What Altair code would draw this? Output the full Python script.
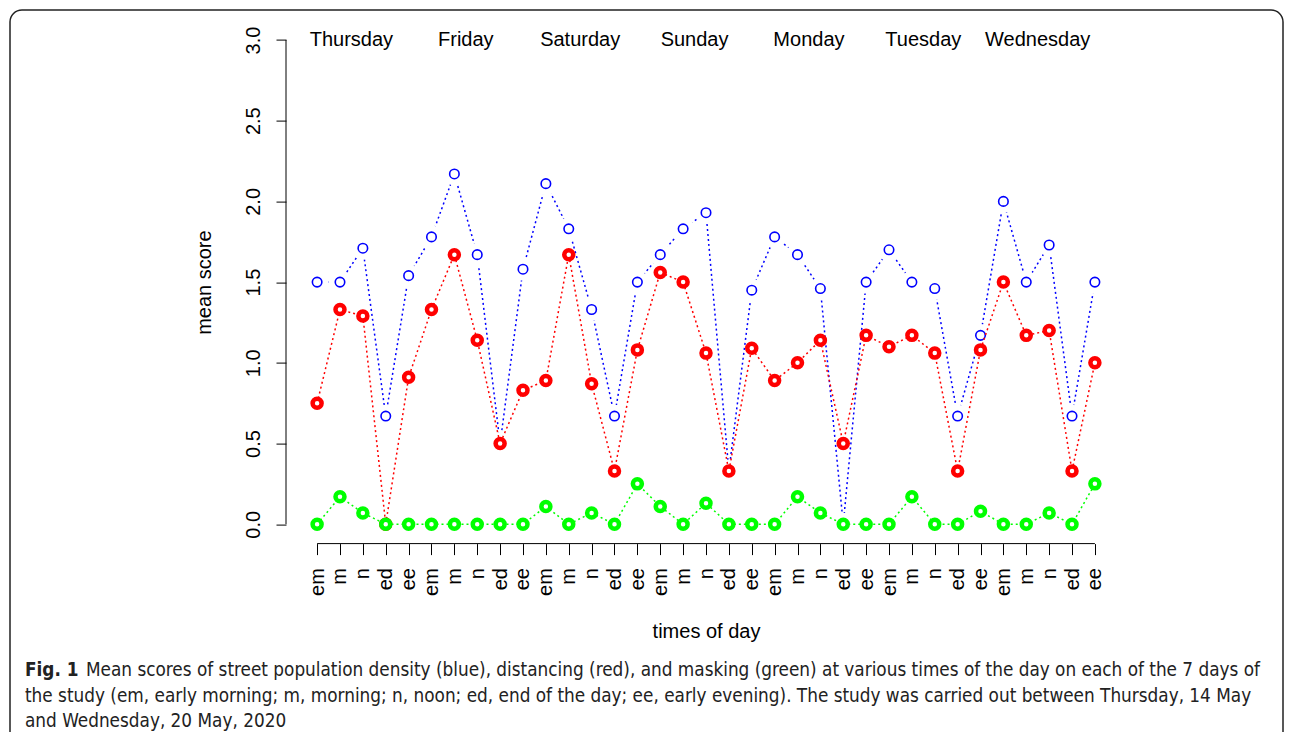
import json
import altair as alt
import pandas as pd

# ---- data ----
times = ["em", "m", "n", "ed", "ee"]
days = ["Thursday", "Friday", "Saturday", "Sunday", "Monday", "Tuesday", "Wednesday"]

density = [1.50, 1.50, 1.71, 0.67, 1.54,
           1.78, 2.17, 1.67, 0.50, 1.58,
           2.11, 1.83, 1.33, 0.67, 1.50,
           1.67, 1.83, 1.93, 0.33, 1.45,
           1.78, 1.67, 1.46, 0.00, 1.50,
           1.70, 1.50, 1.46, 0.67, 1.17,
           2.00, 1.50, 1.73, 0.67, 1.50]
distancing = [0.75, 1.33, 1.29, 0.00, 0.91,
              1.33, 1.67, 1.14, 0.50, 0.83,
              0.89, 1.67, 0.87, 0.33, 1.08,
              1.56, 1.50, 1.06, 0.33, 1.09,
              0.89, 1.00, 1.14, 0.50, 1.17,
              1.10, 1.17, 1.06, 0.33, 1.08,
              1.50, 1.17, 1.20, 0.33, 1.00]
masking = [0.00, 0.17, 0.07, 0.00, 0.00,
           0.00, 0.00, 0.00, 0.00, 0.00,
           0.11, 0.00, 0.07, 0.00, 0.25,
           0.11, 0.00, 0.13, 0.00, 0.00,
           0.00, 0.17, 0.07, 0.00, 0.00,
           0.00, 0.17, 0.00, 0.00, 0.08,
           0.00, 0.00, 0.07, 0.00, 0.25]

day_label_pos = [1.5, 6.5, 11.5, 16.5, 21.5, 26.5, 31.5]

caption_bold = "Fig. 1"
caption_lines = [
    "Mean scores of street population density (blue), distancing (red), and masking (green) at various times of the day on each of the 7 days of",
    "the study (em, early morning; m, morning; n, noon; ed, end of the day; ee, early evening). The study was carried out between Thursday, 14 May",
    "and Wednesday, 20 May, 2020",
]

# ---- tables ----
n = len(density)
idx = list(range(n))
df_blue = pd.DataFrame({"idx": idx, "value": density})
df_red = pd.DataFrame({"idx": idx, "value": distancing})
df_green = pd.DataFrame({"idx": idx, "value": masking})
df_days = pd.DataFrame({"idx": day_label_pos, "day": days, "value": [3.0] * len(days)})

W, H = 840, 523
FONT = "Liberation Sans"
CAP_FONT = "Liberation Sans Narrow, DejaVu Sans Condensed, Open Sans"
CAP_SIZE = 18.8

xscale = alt.Scale(domain=[-1.36, 35.36], nice=False, zero=False)
yscale = alt.Scale(domain=[-0.12, 3.12], nice=False, zero=False)

label_expr = json.dumps(times) + "[datum.value % 5]"

x_axis = alt.Axis(values=idx, labelExpr=label_expr, labelAngle=270, labelAlign="right",
                  labelBaseline="middle", labelPadding=13, tickSize=11, labelOverlap=False,
                  labelFlush=False, labelSeparation=0, domain=False, grid=False,
                  titleX=W / 2, titleY=94, titleBaseline="alphabetic", titleAlign="center",
                  titleFontWeight="normal", titleFontSize=20, labelFontSize=20,
                  labelFont=FONT, titleFont=FONT, labelColor="black", titleColor="black",
                  tickColor="black")
y_axis = alt.Axis(values=[0, 0.5, 1.0, 1.5, 2.0, 2.5, 3.0], format=".1f", labelAngle=270,
                  labelAlign="center", labelBaseline="alphabetic", labelPadding=17,
                  tickSize=10, domain=False, grid=False,
                  titleX=-82, titleY=H / 2, titleAngle=270, titleAlign="center",
                  titleBaseline="middle", titleFontWeight="normal", titleFontSize=20,
                  labelFontSize=20, labelFont=FONT, titleFont=FONT, labelColor="black",
                  titleColor="black", tickColor="black", labelOverlap=False)

XT, YT = "times of day", "mean score"


def xenc():
    return alt.X("idx:Q", scale=xscale, axis=x_axis, title=XT)


def yenc():
    return alt.Y("value:Q", scale=yscale, axis=y_axis, title=YT)


dash = [2, 3]

blue_line = alt.Chart(df_blue).mark_line(color="#0000FF", strokeWidth=1.5, strokeDash=dash).encode(
    x=xenc(), y=yenc())
blue_halo = alt.Chart(df_blue).mark_point(shape="circle", filled=True, fill="white", strokeWidth=0,
                                          size=520, opacity=1).encode(x=xenc(), y=yenc())
blue_pts = alt.Chart(df_blue).mark_point(shape="circle", filled=False, stroke="#0000FF",
                                         strokeWidth=1.6, size=90, opacity=1).encode(x=xenc(), y=yenc())

red_line = alt.Chart(df_red).mark_line(color="#FF0000", strokeWidth=1.5, strokeDash=dash).encode(
    x=xenc(), y=yenc())
red_pts = alt.Chart(df_red).mark_point(shape="circle", filled=True, fill="white", stroke="#FF0000",
                                       strokeWidth=4.5, size=81, opacity=1).encode(x=xenc(), y=yenc())

green_line = alt.Chart(df_green).mark_line(color="#00FF00", strokeWidth=1.5, strokeDash=dash).encode(
    x=xenc(), y=yenc())
green_pts = alt.Chart(df_green).mark_point(shape="circle", filled=True, fill="white", stroke="#00FF00",
                                           strokeWidth=4.5, size=81, opacity=1).encode(x=xenc(), y=yenc())

day_text = alt.Chart(df_days).mark_text(font=FONT, fontSize=20, color="black", align="center",
                                        baseline="middle").encode(
    x=xenc(), y=yenc(), text="day:N")

# axis lines spanning only the tick range (as in base R)
one = pd.DataFrame({"a": [0]})
yaxis_line = alt.Chart(one).mark_rule(color="black", strokeWidth=1).encode(
    x=alt.value(0),
    y=alt.Y(datum=0, scale=yscale, axis=y_axis, title=YT),
    y2=alt.datum(3.0))
xaxis_line = alt.Chart(one).mark_rule(color="black", strokeWidth=1).encode(
    x=alt.X(datum=0, scale=xscale, axis=x_axis, title=XT),
    x2=alt.datum(n - 1),
    y=alt.value(H))

frame = alt.Chart(one).mark_rect(fillOpacity=0, stroke="#222222", strokeWidth=1.5,
                                 cornerRadius=12).encode(
    x=alt.value(-276), x2=alt.value(997), y=alt.value(-10.6), y2=alt.value(780))

cap_layers = [alt.Chart(one).mark_text(text=caption_bold, font=CAP_FONT, fontSize=CAP_SIZE,
                                       fontWeight="bold", color="#222222", align="left",
                                       baseline="alphabetic").encode(
    x=alt.value(-261), y=alt.value(655.4))]
cap_x = [-200, -261, -261]
cap_y = [655.4, 681.4, 706.4]
for i, line in enumerate(caption_lines):
    cap_layers.append(alt.Chart(one).mark_text(text=line, font=CAP_FONT, fontSize=CAP_SIZE,
                                               color="#222222", align="left",
                                               baseline="alphabetic").encode(
        x=alt.value(cap_x[i]), y=alt.value(cap_y[i])))

chart = alt.layer(
    blue_line, frame, blue_halo, blue_pts, red_line, red_pts, green_line, green_pts,
    day_text, yaxis_line, xaxis_line, *cap_layers
).properties(
    width=W, height=H,
    autosize=alt.AutoSizeParams(type="none"),
    padding={"left": 278, "top": 12.6, "right": 158, "bottom": 188.4},
    background="white",
).configure_view(stroke=None).configure_axis(labelOverlap=False)

chart.save("out.html", embed_options={"renderer": "svg", "actions": False})
